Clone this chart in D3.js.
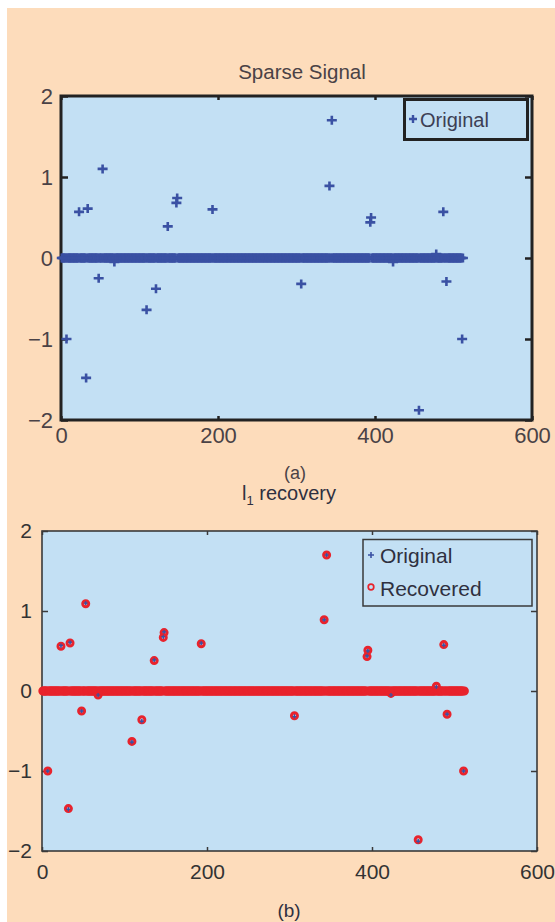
<!DOCTYPE html>
<html>
<head>
<meta charset="utf-8">
<script src="https://cdn.jsdelivr.net/npm/d3@7"></script>
<style>
body{margin:0;background:#fff;}
svg{display:block;font-family:"Liberation Sans",Arial,Helvetica,sans-serif;}
</style>
</head>
<body>
<svg id="fig" width="555" height="922"></svg>
<script>
// sparse test signal, length 512, only the non-zero entries are listed
var signalLength = 512;
var spikeIndex = [7, 23, 32, 34, 48, 53, 68, 109, 121, 136, 147, 148, 193, 306, 342, 345, 394, 395, 423, 456, 478, 487, 491, 511];
var spikeValue = [-1.0, 0.57, -1.48, 0.61, -0.25, 1.1, -0.05, -0.64, -0.38, 0.39, 0.68, 0.74, 0.6, -0.32, 0.89, 1.7, 0.44, 0.5, -0.05, -1.88, 0.05, 0.57, -0.29, -1.0];
// l1 recovered values (same as original)
var recoveredValue = [-1.0, 0.56, -1.47, 0.6, -0.25, 1.09, -0.05, -0.63, -0.36, 0.38, 0.67, 0.73, 0.59, -0.31, 0.89, 1.7, 0.43, 0.51, -0.03, -1.86, 0.06, 0.58, -0.29, -1.0];
var xTicks = [0, 200, 400, 600];
var yTicks = [-2, -1, 0, 1, 2];

var original = [], recovered = [];
for (var i = 1; i <= signalLength; i++) {
    original.push({x: i, y: 0});
    recovered.push({x: i, y: 0});
}
spikeIndex.forEach(function (k, j) {
    original[k - 1].y = spikeValue[j];
    recovered[k - 1].y = recoveredValue[j];
});

var blue = "#3a51a3", red = "#e8232c";
var svg = d3.select("#fig");
svg.append("rect").attr("x", 7).attr("y", 8).attr("width", 548).attr("height", 914).attr("fill", "#fddcbb");

function drawPanel(opt) {
    var x = d3.scaleLinear().domain([0, 600]).range([opt.left, opt.right]);
    var y = d3.scaleLinear().domain([-2, 2]).range([opt.bottom, opt.top]);
    var g = svg.append("g");

    g.append("rect")
        .attr("x", opt.left).attr("y", opt.top)
        .attr("width", opt.right - opt.left).attr("height", opt.bottom - opt.top)
        .attr("fill", "#c3e0f4");

    var fmt = d3.format("");
    var ax = [
        g.append("g").attr("transform", "translate(0," + opt.bottom + ")")
            .call(d3.axisBottom(x).tickValues(xTicks).tickFormat(fmt).tickSize(-opt.xTick).tickSizeOuter(0).tickPadding(opt.xPad)),
        g.append("g").attr("transform", "translate(" + opt.left + ",0)")
            .call(d3.axisLeft(y).tickValues(yTicks).tickFormat(fmt).tickSize(-opt.yTick).tickSizeOuter(0).tickPadding(opt.yPad)),
        g.append("g").attr("transform", "translate(0," + opt.top + ")")
            .call(d3.axisTop(x).tickValues(xTicks).tickFormat("").tickSize(-opt.xTick).tickSizeOuter(0)),
        g.append("g").attr("transform", "translate(" + opt.right + ",0)")
            .call(d3.axisRight(y).tickValues(yTicks).tickFormat("").tickSize(-opt.yTick).tickSizeOuter(0))
    ];
    ax.forEach(function (a) {
        a.select(".domain").remove();
        a.selectAll("line").attr("stroke", opt.axisColor).attr("stroke-width", opt.tickWidth);
        a.selectAll("text").attr("font-size", opt.tickFont).attr("fill", opt.textColor).attr("font-family", null);
    });

    g.append("rect")
        .attr("x", opt.left).attr("y", opt.top)
        .attr("width", opt.right - opt.left).attr("height", opt.bottom - opt.top)
        .attr("fill", "none").attr("stroke", opt.axisColor).attr("stroke-width", opt.frameWidth);

    return {g: g, x: x, y: y};
}

function plus(h, v) {
    return "M" + (-h) + ",0H" + h + "M0," + (-v) + "V" + v;
}

// ---------- panel (a)
var a = drawPanel({left: 61, right: 532, top: 96, bottom: 420, xTick: 4, yTick: 7,
    xPad: 7, yPad: 8, tickFont: 22, textColor: "#4a4246", axisColor: "#222", tickWidth: 2.5, frameWidth: 3});

a.g.append("g").selectAll("path")
    .data(original)
    .enter()
    .append("path")
    .attr("transform", function (d) { return "translate(" + a.x(d.x) + "," + a.y(d.y) + ")"; })
    .attr("d", plus(5, 4.5))
    .attr("stroke", blue).attr("stroke-width", 2.6).attr("fill", "none");

svg.append("text").attr("x", 302).attr("y", 79).attr("text-anchor", "middle")
    .attr("font-size", 20.5).attr("fill", "#4a4246").text("Sparse Signal");

var lgA = svg.append("g");
lgA.append("rect").attr("x", 404.5).attr("y", 99.5).attr("width", 123).attr("height", 40)
    .attr("fill", "#c3e0f4").attr("stroke", "#222").attr("stroke-width", 3);
lgA.append("path").attr("transform", "translate(413,119)").attr("d", plus(4, 4))
    .attr("stroke", blue).attr("stroke-width", 2.4);
lgA.append("text").attr("x", 420).attr("y", 126.5).attr("font-size", 20).attr("fill", "#3d3f55").text("Original");

svg.append("text").attr("x", 295).attr("y", 479).attr("text-anchor", "middle")
    .attr("font-size", 18).attr("fill", "#4a4246").text("(a)");

// ---------- panel (b)
var b = drawPanel({left: 42, right: 537, top: 531, bottom: 851, xTick: 4, yTick: 6,
    xPad: 13, yPad: 10, tickFont: 21, textColor: "#333", axisColor: "#3a3a3a", tickWidth: 1.5, frameWidth: 1.6});

b.g.append("g").selectAll("path")
    .data(original)
    .enter()
    .append("path")
    .attr("transform", function (d) { return "translate(" + b.x(d.x) + "," + b.y(d.y) + ")"; })
    .attr("d", plus(2.5, 2.5))
    .attr("stroke", blue).attr("stroke-width", 1.3).attr("fill", "none");

b.g.append("g").selectAll("circle")
    .data(recovered)
    .enter()
    .append("circle")
    .attr("cx", function (d) { return b.x(d.x); })
    .attr("cy", function (d) { return b.y(d.y); })
    .attr("r", 3)
    .attr("fill", "none")
    .attr("stroke", red).attr("stroke-width", 3);

// redraw the crosses of the spikes on top so the blue centre shows
b.g.append("g").selectAll("path")
    .data(original.filter(function (d) { return d.y !== 0; }))
    .enter()
    .append("path")
    .attr("transform", function (d) { return "translate(" + b.x(d.x) + "," + b.y(d.y) + ")"; })
    .attr("d", plus(2, 2))
    .attr("stroke", blue).attr("stroke-width", 1.2).attr("fill", "none");

var lgB = svg.append("g");
lgB.append("rect").attr("x", 363).attr("y", 539.5).attr("width", 169).attr("height", 66.5)
    .attr("fill", "#c3e0f4").attr("stroke", "#3a3a3a").attr("stroke-width", 1.5);
lgB.append("path").attr("transform", "translate(371,555)").attr("d", plus(3, 3))
    .attr("stroke", blue).attr("stroke-width", 1.6);
lgB.append("circle").attr("cx", 371).attr("cy", 587).attr("r", 2.8)
    .attr("fill", "none").attr("stroke", red).attr("stroke-width", 1.7);
lgB.append("text").attr("x", 380).attr("y", 563).attr("font-size", 21).attr("fill", "#2f3040").text("Original");
lgB.append("text").attr("x", 380).attr("y", 595.5).attr("font-size", 21).attr("fill", "#2f3040").text("Recovered");

var t = svg.append("text").attr("x", 289).attr("y", 500).attr("text-anchor", "middle")
    .attr("font-size", 20).attr("fill", "#2f3040");
t.append("tspan").text("l");
t.append("tspan").attr("font-size", 13).attr("dy", 5).text("1");
t.append("tspan").attr("dy", -5).text(" recovery");

svg.append("text").attr("x", 289).attr("y", 917).attr("text-anchor", "middle")
    .attr("font-size", 19).attr("fill", "#2f3040").text("(b)");
</script>
</body>
</html>
